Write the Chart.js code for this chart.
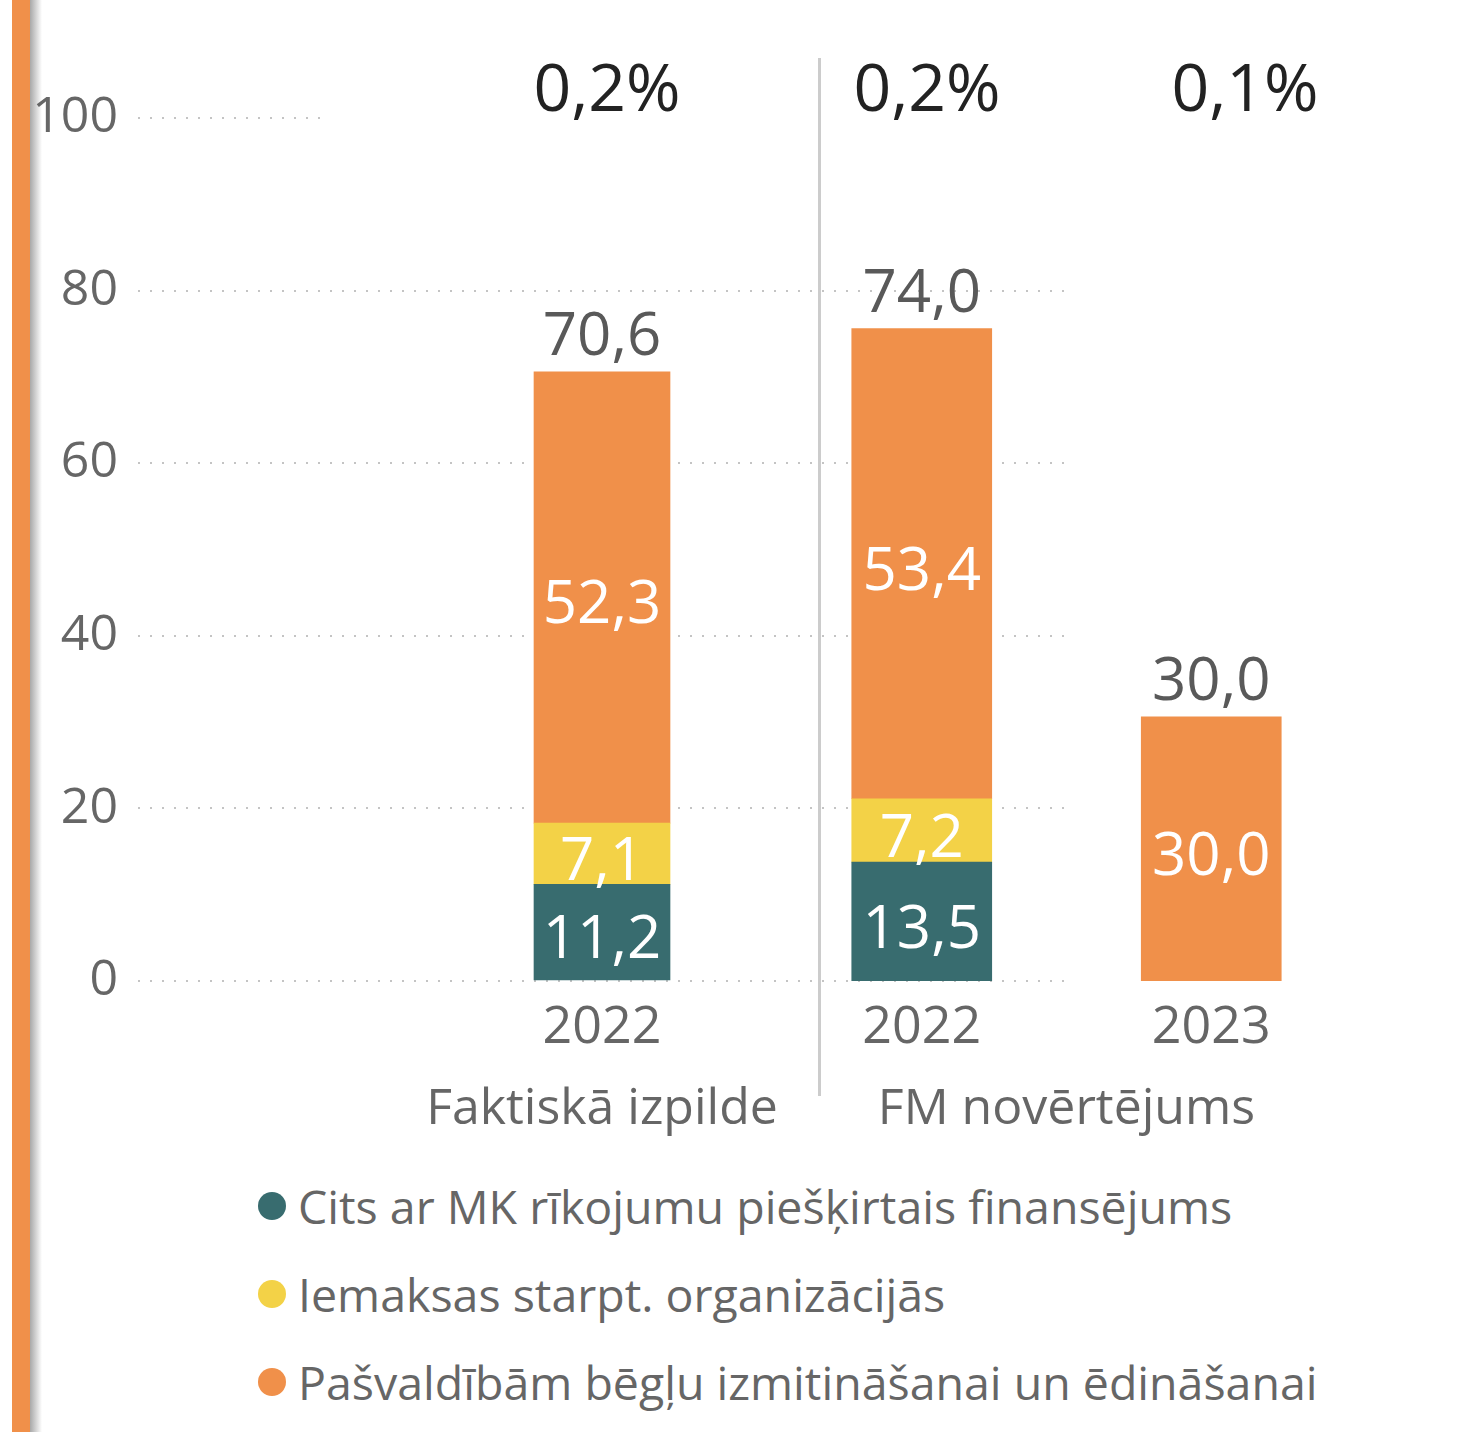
<!DOCTYPE html>
<html>
<head>
<meta charset="utf-8">
<script src="https://cdn.jsdelivr.net/npm/chart.js@4.4.1/dist/chart.umd.min.js"></script>
<style>
  body { margin: 0; background: #fff; width: 1467px; height: 1432px; overflow: hidden; position: relative; font-family: "Open Sans", sans-serif; }
  .edge { position: absolute; left: 12px; top: 0; width: 18px; height: 1432px; background: #F0904A; }
  .shade { position: absolute; left: 30px; top: 0; width: 12px; height: 1432px; background: linear-gradient(to right, #a8a8a8, rgba(255,255,255,0)); }
  .wrap { position: absolute; top: 0; height: 1141px; }
  #shares { position: absolute; left: 330px; top: 47px; width: 1137px; height: 76px; background: #fff; }
  .share { position: absolute; top: 0; font-size: 66px; line-height: 76px; color: #222; transform: translateX(-50%); }
  .sep { position: absolute; left: 818px; top: 58px; width: 3px; height: 1038px; background: #cccccc; }
  #legend { position: absolute; left: 258px; top: 1162px; }
  .item { display: flex; align-items: center; height: 88px; font-size: 46.5px; color: #666; }
  .dot { width: 28px; height: 28px; border-radius: 50%; margin-right: 12px; }
</style>
</head>
<body>
<div class="edge"></div>
<div class="shade"></div>
<div class="wrap" style="left:30px;width:1036px"><canvas id="chartFact" width="1036" height="1141"></canvas></div>
<div class="wrap" style="left:777px;width:579px"><canvas id="chartEst" width="579" height="1141"></canvas></div>
<div id="shares"></div>
<div class="sep"></div>
<div id="legend"></div>
<script>
// dati
const seriesNames = ['Cits ar MK rīkojumu piešķirtais finansējums', 'Iemaksas starpt. organizācijās', 'Pašvaldībām bēgļu izmitināšanai un ēdināšanai'];
const seriesColors = ['#386C6F', '#F3D247', '#F0904A'];
const factGroup = 'Faktiskā izpilde';
const estGroup = 'FM novērtējums';
const factYears = ['2022'];
const estYears = ['2022', '2023'];
const citsFact = [11.2];
const iemaksasFact = [7.1];
const pasvFact = [52.3];
const citsEst = [13.5, null];
const iemaksasEst = [7.2, null];
const pasvEst = [53.4, 30.0];
const totalsFact = [70.6];
const totalsEst = [74.0, 30.0];
const shares = ['0,2%', '0,2%', '0,1%'];
const yTicks = [0, 20, 40, 60, 80, 100];

const fmt = v => v.toFixed(1).replace('.', ',');
const FONT = '"Open Sans", sans-serif';

// uzraksti uz stabiņiem
const barLabels = {
    id: 'barLabels',
    afterDatasetsDraw(chart, args, opts) {
        const ctx = chart.ctx;
        ctx.save();
        ctx.textAlign = 'center';
        ctx.textBaseline = 'middle';
        ctx.font = '60px ' + FONT;
        ctx.fillStyle = '#fff';
        chart.data.datasets.forEach((ds, i) => {
            chart.getDatasetMeta(i).data.forEach((bar, j) => {
                if (ds.data[j] == null) return;
                ctx.fillText(fmt(ds.data[j]), bar.x, (bar.y + bar.base) / 2 + 9);
            });
        });
        const last = chart.getDatasetMeta(chart.data.datasets.length - 1).data;
        ctx.fillStyle = '#595959';
        ctx.textBaseline = 'bottom';
        opts.totals.forEach((t, j) => {
            ctx.fillText(fmt(t), last[j].x, last[j].y - 4);
        });
        ctx.restore();
    }
};

function makeDatasets(arrs, thick) {
    return arrs.map((d, i) => ({
        label: seriesNames[i],
        data: d,
        backgroundColor: seriesColors[i],
        barThickness: thick,
        borderWidth: 0
    }));
}

function xScale(group) {
    return {
        stacked: true,
        grid: { display: false },
        border: { display: false },
        ticks: { color: '#666', font: { family: FONT, size: 52 }, padding: 8 },
        title: { display: true, text: group, color: '#666', font: { family: FONT, size: 50 }, padding: { top: 0, bottom: 1 } },
        afterFit: s => { s.height = 160; }
    };
}

new Chart(document.getElementById('chartFact'), {
    type: 'bar',
    data: { labels: factYears, datasets: makeDatasets([citsFact, iemaksasFact, pasvFact], 136) },
    options: {
        responsive: false,
        animation: false,
        maintainAspectRatio: false,
        layout: { padding: { top: 118, right: 0, bottom: 0, left: 0 } },
        plugins: { legend: { display: false }, tooltip: { enabled: false }, barLabels: { totals: totalsFact } },
        scales: {
            x: xScale(factGroup),
            y: {
                stacked: true,
                min: yTicks[0],
                max: yTicks[yTicks.length - 1],
                afterBuildTicks: s => { s.ticks = yTicks.map(v => ({ value: v })); },
                grid: { color: '#c4c4c4', lineWidth: 2, drawTicks: false },
                border: { display: false, dash: [2, 10] },
                ticks: { color: '#666', font: { family: FONT, size: 50 }, padding: 20 },
                afterFit: s => { s.width = 108; }
            }
        }
    },
    plugins: [barLabels]
});

new Chart(document.getElementById('chartEst'), {
    type: 'bar',
    data: { labels: estYears, datasets: makeDatasets([citsEst, iemaksasEst, pasvEst], 140) },
    options: {
        responsive: false,
        animation: false,
        maintainAspectRatio: false,
        layout: { padding: { top: 118, right: 0, bottom: 0, left: 0 } },
        plugins: { legend: { display: false }, tooltip: { enabled: false }, barLabels: { totals: totalsEst } },
        scales: {
            x: xScale(estGroup),
            y: { stacked: true, display: false, min: 0, max: 98 }
        }
    },
    plugins: [barLabels]
});

// procenti virs stabiņiem
const shareX = [607, 927, 1245];
shares.forEach((s, i) => {
    const d = document.createElement('div');
    d.className = 'share';
    d.style.left = (shareX[i] - 330) + 'px';
    d.textContent = s;
    document.getElementById('shares').appendChild(d);
});

// leģenda
seriesNames.forEach((n, i) => {
    const row = document.createElement('div');
    row.className = 'item';
    row.innerHTML = '<span class="dot" style="background:' + seriesColors[i] + '"></span><span>' + n + '</span>';
    document.getElementById('legend').appendChild(row);
});
</script>
</body>
</html>
